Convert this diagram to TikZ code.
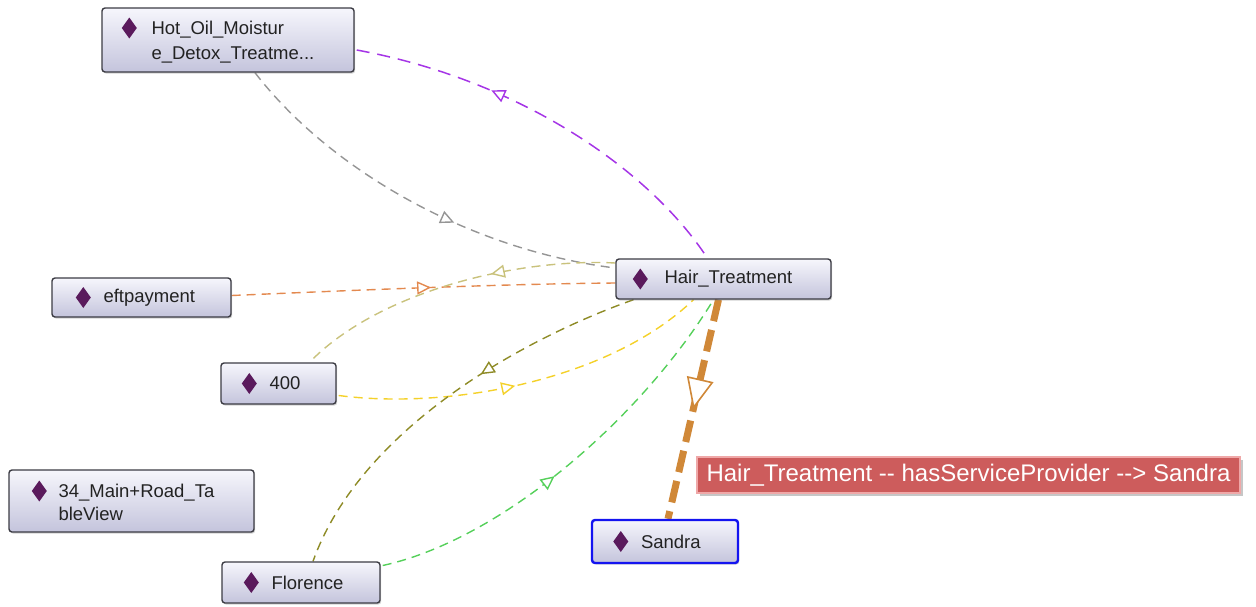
\documentclass[tikz,border=0pt]{standalone}
\usepackage{fontspec}
\setmainfont{Liberation Sans}
\usetikzlibrary{arrows.meta,decorations.markings,shadows,calc}

\definecolor{boxline}{HTML}{3C3C44}
\definecolor{boxtop}{HTML}{F6F6FC}
\definecolor{boxbot}{HTML}{C4C4DC}
\definecolor{gemcol}{HTML}{5A1A5C}
\definecolor{txtcol}{HTML}{222222}
\definecolor{cpurple}{HTML}{A535E6}
\definecolor{cgray}{HTML}{959595}
\definecolor{corange}{HTML}{E3894F}
\definecolor{ckhaki}{HTML}{C9C27C}
\definecolor{cyellow}{HTML}{F4D12A}
\definecolor{colive}{HTML}{8E8B26}
\definecolor{cgreen}{HTML}{55D05A}
\definecolor{cthick}{HTML}{D08838}
\definecolor{cselect}{HTML}{1414F0}
\definecolor{tipfill}{HTML}{CD5C5C}
\definecolor{tipline}{HTML}{EFA8A8}

\pgfdeclarelayer{edges}
\pgfsetlayers{edges,main}

\tikzset{
  x=1pt, y=-1pt,
  box/.style={rectangle, rounded corners=3pt, draw=boxline, line width=1.4pt,
    top color=boxtop, bottom color=boxbot, inner sep=0pt,
    drop shadow={shadow xshift=1.2pt, shadow yshift=-1.6pt, opacity=.35}},
  txt/.style={anchor=west, inner sep=0pt, text=txtcol, align=left,
    font=\fontsize{18.5}{24}\selectfont},
  gem/.pic={\fill[gemcol] (-7.5,0) -- (0,-10.5) -- (7.5,0) -- (0,10.5) -- cycle;},
  rel/.style={line width=1.4pt, dash pattern=on 9pt off 6pt},
  midtip/.style 2 args={postaction={decorate}, decoration={markings,
    mark=at position #1 with {\arrow[line width=1.4pt]{Triangle[fill=white,length=14pt,width=13pt,#2]}}}},
}

\begin{document}
\begin{tikzpicture}
\useasboundingbox (0,0) rectangle (1256,606);

% individuals
\node[box, minimum width=252pt, minimum height=64pt] (hot) at (228,40) {};
\pic at ($(hot.west)+(28,-12)$) {gem};
\node[txt, font=\fontsize{18.5}{25}\selectfont] (hottxt) at ($(hot.west)+(50,2)$) {Hot\_Oil\_Moistur\\e\_Detox\_Treatme...};

\node[box, minimum width=215pt, minimum height=40pt] (hair) at (723.5,279) {};
\pic at ($(hair.west)+(25,0)$) {gem};
\node[txt] (hairtxt) at ($(hair.west)+(49,0)$) {Hair\_Treatment};

\node[box, minimum width=179pt, minimum height=39pt] (eft) at (141.5,297.5) {};
\pic at ($(eft.west)+(32,0)$) {gem};
\node[txt] (efttxt) at ($(eft.west)+(52,0)$) {eftpayment};

\node[box, minimum width=115pt, minimum height=41pt] (n400) at (278.5,383.5) {};
\pic at ($(n400.west)+(29,0)$) {gem};
\node[txt] (n400txt) at ($(n400.west)+(49,0)$) {400};

\node[box, minimum width=245pt, minimum height=62pt] (main34) at (131.5,501) {};
\pic at ($(main34.west)+(31,-10)$) {gem};
\node[txt, font=\fontsize{18.5}{23}\selectfont] (main34txt) at ($(main34.west)+(50,1)$) {34\_Main+Road\_Ta\\bleView};

\node[box, draw=cselect, line width=2.4pt, minimum width=146pt, minimum height=43pt] (sandra) at (665,541.5) {};
\pic at ($(sandra.west)+(30,0)$) {gem};
\node[txt] (sandratxt) at ($(sandra.west)+(50,0)$) {Sandra};

\node[box, minimum width=158pt, minimum height=41pt] (florence) at (301,582.5) {};
\pic at ($(florence.west)+(30,0)$) {gem};
\node[txt] (florencetxt) at ($(florence.west)+(50,0)$) {Florence};

% relations
\begin{pgfonlayer}{edges}
\draw[rel, cpurple, line width=1.5pt, dash pattern=on 13pt off 8pt, midtip={0.37}{reversed}]
  ($(hot.east)+(2,10)$) .. controls (520,80) and (650,170) .. ($(hair.north)+(-16,0)$);
\draw[rel, cgray, midtip={0.6}{}]
  ($(hot.south)+(27,0)$) .. controls (330,170) and (470,250) .. ($(hair.west)+(0,-11)$);
\draw[rel, corange, midtip={0.52}{}]
  ($(eft.east)+(0,-2)$) .. controls (360,290) and (500,284) .. ($(hair.west)+(0,4)$);
\draw[rel, ckhaki, midtip={0.38}{}]
  ($(hair.west)+(0,-16)$) .. controls (520,258) and (380,290) .. ($(n400.north)+(31,0)$);
\draw[rel, cyellow, midtip={0.47}{}]
  ($(n400.east)+(2,12)$) .. controls (450,410) and (610,380) .. ($(hair.south)+(-30,0)$);
\draw[rel, colive, midtip={0.4}{}]
  ($(hair.south)+(-90,0)$) .. controls (520,340) and (360,430) .. ($(florence.north)+(12,0)$);
\draw[rel, cgreen, midtip={0.45}{}]
  ($(florence.east)+(2,-17)$) .. controls (500,540) and (640,420) .. ($(hair.south)+(-10,0)$);
\draw[cthick, line width=7pt, dash pattern=on 22pt off 9pt,
  postaction={decorate}, decoration={markings, mark=at position 0.5 with
  {\arrow[line width=1.6pt]{Triangle[fill=white,length=31pt,width=27pt]}}}]
  ($(hair.south)+(-5,0)$) -- ($(sandra.north)+(3,0)$);
\end{pgfonlayer}

% hover caption
\node[rectangle, fill=tipfill, draw=tipline, line width=1.5pt, minimum width=543pt,
  minimum height=36pt, inner sep=0pt, text=white, font=\fontsize{24}{27}\selectfont,
  drop shadow={shadow xshift=3pt, shadow yshift=-3pt, opacity=.45}]
  (caption) at (968.5,475) {Hair\_Treatment -{}- hasServiceProvider -{}-> Sandra};
\end{tikzpicture}
\end{document}
